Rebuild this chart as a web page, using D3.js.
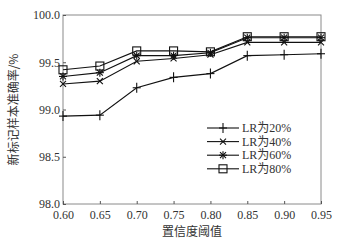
<!DOCTYPE html>
<html><head><meta charset="utf-8">
<script src="https://cdn.jsdelivr.net/npm/d3@7"></script>
<style>body{margin:0;background:#fff}svg{display:block}
text{font-family:"Liberation Serif","Times New Roman","Noto Sans CJK SC",serif;fill:#333}</style>
</head><body><svg id="c" width="354" height="247"></svg>
<script>
const thresholds = [0.60,0.65,0.70,0.75,0.80,0.85,0.90,0.95];
const lr20 = [98.93,98.94,99.23,99.34,99.38,99.57,99.58,99.59];
const lr40 = [99.27,99.30,99.51,99.54,99.58,99.71,99.71,99.71];
const lr60 = [99.35,99.39,99.57,99.57,99.60,99.76,99.76,99.76];
const lr80 = [99.42,99.46,99.62,99.62,99.61,99.77,99.77,99.77];
const seriesNames = ["LR为20%","LR为40%","LR为60%","LR为80%"];
const markers = ["plus","x","star","square"];
const xTicks = [0.60,0.65,0.70,0.75,0.80,0.85,0.90,0.95];
const yTicks = [98.0,98.5,99.0,99.5,100.0];
const xTitle = "置信度阈值";
const yTitle = "新标记样本准确率/%";

const series = [lr20,lr40,lr60,lr80];
const svg = d3.select("#c");
const L=63,R=321,T=15,B=204;
const x = d3.scaleLinear().domain([0.60,0.95]).range([L,R]);
const y = d3.scaleLinear().domain([98,100]).range([B,T]);

// frame
svg.append("rect").attr("x",L).attr("y",T).attr("width",R-L).attr("height",B-T)
  .attr("fill","none").attr("stroke","#8a8a8a").attr("stroke-width",1);

const xa = svg.append("g").attr("transform",`translate(0,${B})`)
  .call(d3.axisBottom(x).tickValues(xTicks).tickSizeInner(-3).tickSizeOuter(0).tickPadding(6).tickFormat(d3.format(".2f")));
const ya = svg.append("g").attr("transform",`translate(${L},0)`)
  .call(d3.axisLeft(y).tickValues(yTicks).tickSizeInner(-3).tickSizeOuter(0).tickPadding(3).tickFormat(d3.format(".1f")));
[xa,ya].forEach(a=>{a.select(".domain").remove();
  a.selectAll("line").attr("stroke","#555");
  a.selectAll("text").attr("font-size",12).attr("fill","#333")
   .style("font-family",'"Liberation Serif","Times New Roman",serif');});
xa.selectAll("text").attr("dy","0.71em");

svg.append("text").attr("x",(L+R)/2).attr("y",236).attr("text-anchor","middle")
  .attr("font-size",12).style("font-family",'"Noto Sans CJK SC",sans-serif').attr("fill","#444").text(xTitle);
svg.append("text").attr("transform",`translate(18,${(T+B)/2}) rotate(-90)`).attr("text-anchor","middle")
  .attr("font-size",12).style("font-family",'"Noto Sans CJK SC",sans-serif').attr("fill","#444").text(yTitle);

function marker(g,type,cx,cy){
  const s=4;
  if(type==="plus"){
    g.append("line").attr("x1",cx-s).attr("x2",cx+s).attr("y1",cy).attr("y2",cy);
    g.append("line").attr("x1",cx).attr("x2",cx).attr("y1",cy-s-1).attr("y2",cy+s+1);
  } else if(type==="x"){
    const k=3;
    g.append("line").attr("x1",cx-k).attr("x2",cx+k).attr("y1",cy-k).attr("y2",cy+k);
    g.append("line").attr("x1",cx-k).attr("x2",cx+k).attr("y1",cy+k).attr("y2",cy-k);
  } else if(type==="star"){
    const k=3;
    g.append("line").attr("x1",cx-k).attr("x2",cx+k).attr("y1",cy-k).attr("y2",cy+k);
    g.append("line").attr("x1",cx-k).attr("x2",cx+k).attr("y1",cy+k).attr("y2",cy-k);
    g.append("line").attr("x1",cx).attr("x2",cx).attr("y1",cy-4).attr("y2",cy+4);
    g.append("line").attr("x1",cx-4).attr("x2",cx+4).attr("y1",cy).attr("y2",cy);
  } else {
    g.append("rect").attr("x",cx-4).attr("y",cy-4).attr("width",8).attr("height",8).attr("fill","none");
  }
}

const line = d3.line().x((d,i)=>x(thresholds[i])).y(d=>y(d));
series.forEach((s,k)=>{
  const g = svg.append("g").attr("stroke","#111").attr("stroke-width",1.1).attr("fill","none");
  g.append("path").attr("d",line(s));
  s.forEach((v,i)=>marker(g,markers[k],x(thresholds[i]),y(v)));
});

// legend
const lg = svg.append("g");
seriesNames.forEach((n,k)=>{
  const yy = 128 + k*13.6;
  const g = lg.append("g").attr("stroke","#111").attr("stroke-width",1.1).attr("fill","none");
  g.append("line").attr("x1",207).attr("x2",239).attr("y1",yy).attr("y2",yy);
  marker(g,markers[k],223,yy);
  lg.append("text").attr("x",242).attr("y",yy).attr("dy","0.35em").attr("font-size",12)
    .attr("fill","#333").text(n);
});
</script></body></html>
